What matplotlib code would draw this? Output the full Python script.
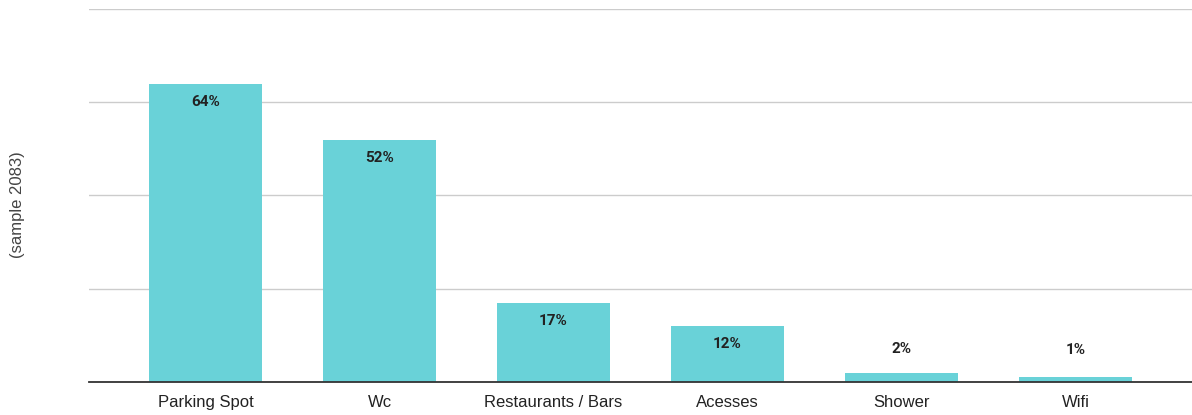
import matplotlib
matplotlib.use("Agg")
import matplotlib.pyplot as plt

categories = ["Parking Spot", "Wc", "Restaurants / Bars", "Acesses", "Shower", "Wifi"]
shares = [64, 52, 17, 12, 2, 1]
bar_colour = "#69d2d8"

plt.rcParams['font.family'] = ['Liberation Sans', 'DejaVu Sans']

fig = plt.figure(figsize=(11.92, 4.15), dpi=100)
ax = fig.add_axes([89 / 1192, 1 - 382 / 415, 1 - 89 / 1192, (382 - 9) / 415])

x = range(len(categories))
bars = ax.bar(x, shares, width=0.65, color=bar_colour, zorder=3)

ax.set_ylim(0, 80)
ax.set_xlim(-0.67, len(categories) - 0.33)
ax.set_yticks([0, 20, 40, 60, 80])
ax.set_yticklabels([])
ax.tick_params(axis='y', length=0)
ax.tick_params(axis='x', length=0, pad=9, labelsize=12, colors="#222222")
ax.set_xticks(list(x))
ax.set_xticklabels(categories)
ax.grid(axis='y', color="#cccccc", linewidth=1, zorder=0)

for s in ["top", "right", "left"]:
    ax.spines[s].set_visible(False)
ax.spines["bottom"].set_color("#333333")
ax.spines["bottom"].set_linewidth(1.3)
ax.spines["bottom"].set_zorder(4)

# value labels: inside the bar when it is tall enough, otherwise just above
for b, v in zip(bars, shares):
    cx = b.get_x() + b.get_width() / 2
    if v >= 10:
        off = -13
    else:
        off = 17 if v > 1 else 20
    ax.annotate(f"{v}%", (cx, v), xytext=(0, off), textcoords="offset points",
                ha="center", va="center", fontsize=11, fontweight="bold",
                family=["Roboto", "DejaVu Sans"], color="#222222", zorder=5)

fig.text(18 / 1192, 1 - 205 / 415, "(sample 2083)", rotation=90,
         ha="center", va="center", fontsize=12, color="#444444")

fig.savefig("out.png", dpi=100)
